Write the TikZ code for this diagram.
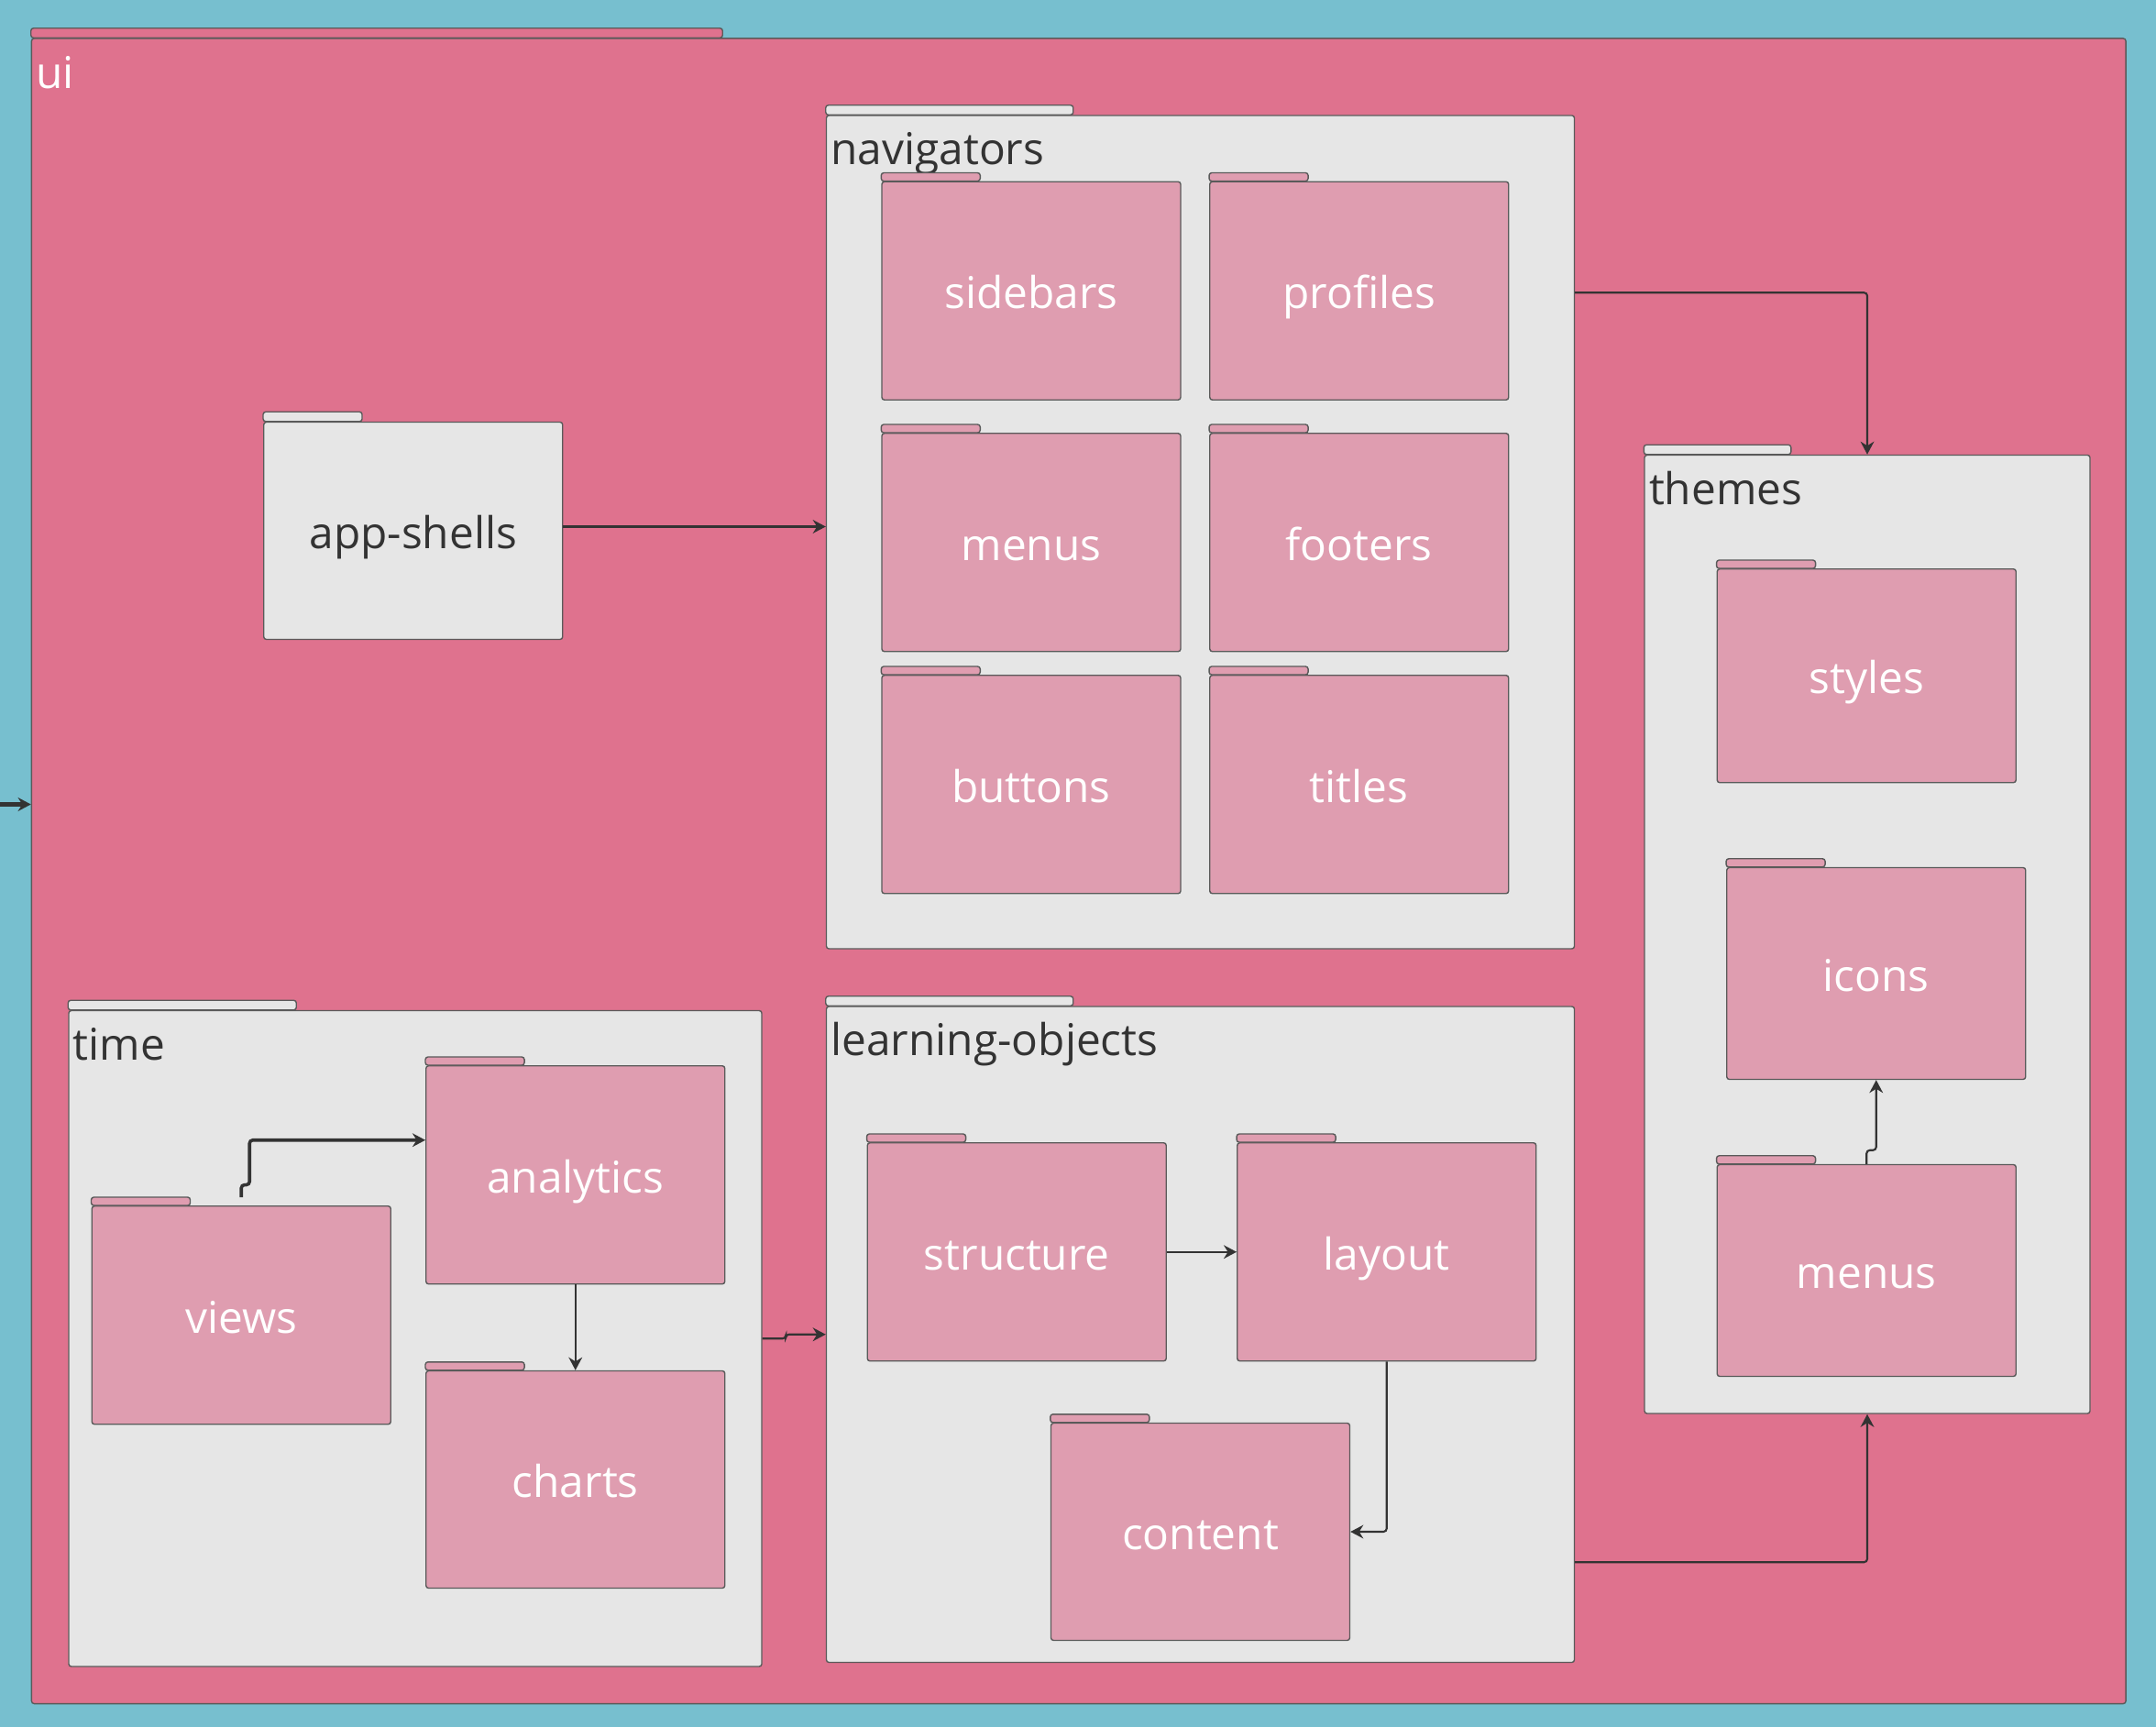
\documentclass[tikz,border=0pt]{standalone}
\usepackage{fontspec}
\setmainfont{Open Sans}
\usepackage{xcolor}
\usetikzlibrary{positioning, arrows.meta, calc}
\definecolor{bgteal}{HTML}{77BFCF}
\definecolor{uipink}{HTML}{DF728E}
\definecolor{pkgpink}{HTML}{DF9DB0}
\definecolor{groupgray}{HTML}{E6E6E6}
\definecolor{edgegray}{HTML}{5A5A5A}
\definecolor{linkgray}{HTML}{333333}

\begin{document}
\begin{tikzpicture}[
    x=0.015cm, y=-0.015cm,
    font=\fontsize{13.6}{16}\selectfont,
    folder/.style={draw=edgegray, line width=0.4pt, fill=#1, rounded corners=0.8pt, inner sep=0pt, align=center, text height=0.47cm, text depth=0.08cm},
    pkg/.style={folder=pkgpink, minimum width=3.26cm, minimum height=2.38cm, text=white},
    group/.style={folder=groupgray},
    grouplabel/.style={anchor=base west, inner sep=0pt, text=linkgray},
    tab/.style={draw=edgegray, line width=0.4pt, fill=#1, rounded corners=0.8pt},
    link/.style={draw=linkgray, line width=0.6pt, rounded corners=1pt, -{Stealth[length=4pt, width=4.2pt]}}
]

% Canvas
\useasboundingbox (0,0) rectangle (1568,1256);
\fill[bgteal] (0,0) rectangle (1568,1256);

% Outer package
\node[folder=uipink, minimum width=22.845cm, minimum height=18.165cm] (ui) at (784.5,633.5) {};
\draw[tab=uipink] (ui.north west) rectangle ++(503,-7);
\node[grouplabel, text=white] (ui-label) at ([xshift=0.05cm, yshift=-0.55cm]ui.north west) {ui};

% Groups
\node[group, minimum width=8.16cm, minimum height=9.09cm] (navigators) at (873,387) {};
\node[group, minimum width=4.86cm, minimum height=10.455cm] (themes) at (1358,679.5) {};
\node[group, minimum width=7.56cm, minimum height=7.155cm] (time) at (302,973.5) {};
\node[group, minimum width=8.16cm, minimum height=7.155cm] (learning-objects) at (873,970.5) {};
\foreach \n/\w in {navigators/180, themes/107, time/166, learning-objects/180}
    \draw[tab=groupgray] (\n.north west) rectangle ++(\w,-7);
\foreach \n in {navigators, themes, time, learning-objects}
    \node[grouplabel] (\n-label) at ([xshift=0.05cm, yshift=-0.545cm]\n.north west) {\n};

% App shells
\node[folder=groupgray, minimum width=3.26cm, minimum height=2.37cm, text=linkgray] (app-shells) at (300.5,386) {app-shells};
\draw[tab=groupgray] (app-shells.north west) rectangle ++(72,-7);

% Navigators
\node[pkg] (sidebars) at (750,211.5) {sidebars};
\node[pkg] (profiles) at (988.5,211.5) {profiles};
\node[pkg] (nav-menus) at (750,394.5) {menus};
\node[pkg] (footers) at (988.5,394.5) {footers};
\node[pkg] (buttons) at (750,570.5) {buttons};
\node[pkg] (titles) at (988.5,570.5) {titles};

% Themes
\node[pkg, minimum height=2.33cm] (styles) at (1357.5,491.5) {styles};
\node[pkg, minimum height=2.31cm] (icons) at (1364.5,708) {icons};
\node[pkg, minimum height=2.31cm] (theme-menus) at (1357.5,924) {menus};

% Time
\node[pkg] (analytics) at (418.5,854.5) {analytics};
\node[pkg] (views) at (175.5,956.5) {views};
\node[pkg, minimum height=2.37cm] (charts) at (418.5,1076) {charts};

% Learning objects
\node[pkg] (structure) at (739.5,910.5) {structure};
\node[pkg] (layout) at (1008.5,910.5) {layout};
\node[pkg, minimum height=2.37cm] (content) at (873,1114) {content};

\foreach \n in {sidebars, profiles, nav-menus, footers, buttons, titles, styles, icons, theme-menus, analytics, views, charts, structure, layout, content}
    \draw[tab=pkgpink] (\n.north west) rectangle ++(72,-6);

% Connections
\coordinate (entry) at (0,585);
\draw[link, line width=1.2pt] (entry) -- (entry -| ui.west);
\draw[link] ([yshift=0.045cm]app-shells.east) -- ([yshift=0.045cm]app-shells.east -| navigators.west);
\draw[link] ([yshift=-0.02cm]navigators.east |- profiles) -| (themes.north);
\draw[link] ([yshift=1.1cm]learning-objects.south east) -| (themes.south);
\draw[link] (time.east) -- ++(17,0) |- (learning-objects.west);
\draw[link, line width=1pt] ([yshift=0.09cm]views.north) -- ++(0,-9) -- ++(6,0) |- ([yshift=0.38cm]analytics.west);
\draw[link] (analytics.south) -- (charts.north);
\draw[link] (structure.east) -- (layout.west);
\draw[link] (layout.south) |- (content.east);
\draw[link] (theme-menus.north) -- ++(0,-10) -| (icons.south);

\end{tikzpicture}
\end{document}
